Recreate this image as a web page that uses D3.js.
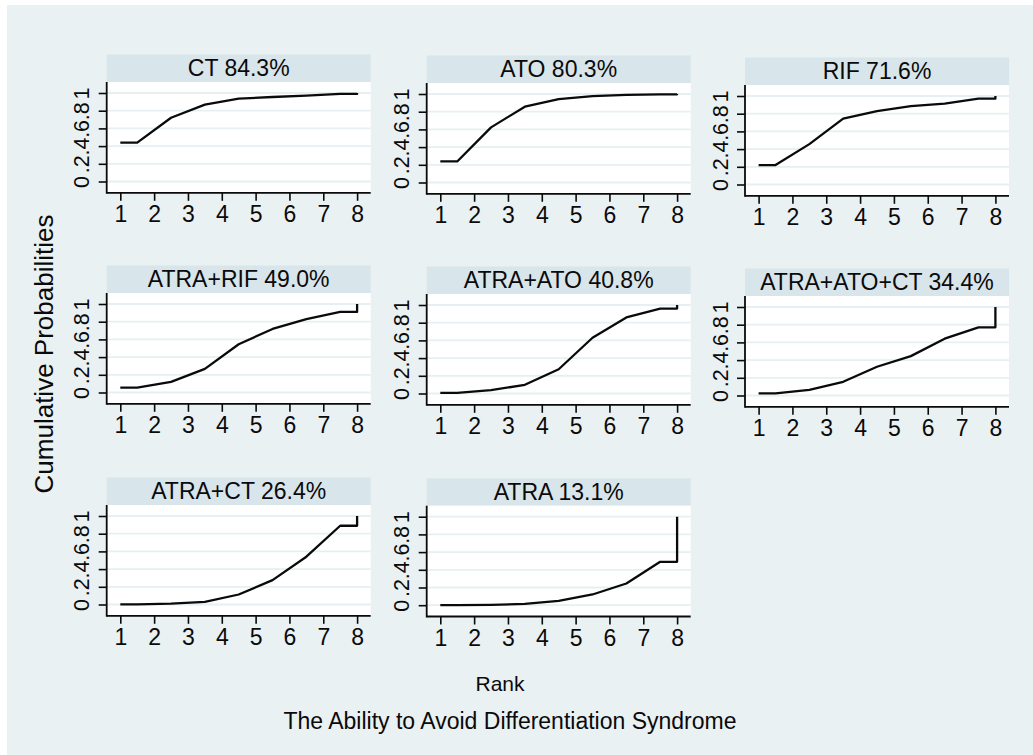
<!DOCTYPE html>
<html>
<head>
<meta charset="utf-8">
<script src="https://cdn.jsdelivr.net/npm/d3@7"></script>
<style>
  html, body { margin: 0; padding: 0; background: #ffffff; }
  svg { display: block; }
  text { font-family: "Liberation Sans", Arial, Helvetica, sans-serif; fill: #0a0a0a; }
</style>
</head>
<body>
<svg id="chart" width="1033" height="755"></svg>
<script>
// Treatments, their SUCRA values and cumulative rank probabilities (ranks 1..8)
const treatments = ["CT", "ATO", "RIF", "ATRA+RIF", "ATRA+ATO", "ATRA+ATO+CT", "ATRA+CT", "ATRA"];
const sucra = [84.3, 80.3, 71.6, 49.0, 40.8, 34.4, 26.4, 13.1];

const cumCT        = [0.44, 0.72, 0.868, 0.936, 0.955, 0.97, 0.99, 1];
const cumATO       = [0.238, 0.623, 0.857, 0.943, 0.977, 0.989, 0.996, 1];
const cumRIF       = [0.22, 0.456, 0.745, 0.83, 0.885, 0.915, 0.97, 1];
const cumATRA_RIF  = [0.056, 0.12, 0.267, 0.545, 0.718, 0.83, 0.91, 1];
const cumATRA_ATO  = [0.008, 0.038, 0.098, 0.274, 0.63, 0.86, 0.96, 1];
const cumATRA_ATO_CT = [0.023, 0.064, 0.155, 0.325, 0.445, 0.642, 0.77, 1];
const cumATRA_CT   = [0.002, 0.011, 0.03, 0.113, 0.275, 0.54, 0.89, 1];
const cumATRA      = [0.0, 0.004, 0.015, 0.049, 0.121, 0.245, 0.49, 1];

const cumulative = [cumCT, cumATO, cumRIF, cumATRA_RIF, cumATRA_ATO, cumATRA_ATO_CT, cumATRA_CT, cumATRA];

const xTicks = [1, 2, 3, 4, 5, 6, 7, 8];
const yTicks = [0, 0.2, 0.4, 0.6, 0.8, 1];
const yTickLabels = ["0", ".2", ".4", ".6", ".8", "1"];

const xTitle = "Rank";
const yTitle = "Cumulative Probabilities";
const caption = "The Ability to Avoid Differentiation Syndrome";

const svg = d3.select("#chart");

// page background
svg.append("rect").attr("x", 7).attr("y", 5).attr("width", 1026).attr("height", 750)
  .attr("fill", "#eaf1f3");

// panel geometry
const colLeft = [106.7, 426.7, 745];
const rowTop = [54.5, 265.5, 477.5];
const colShift = [0, 1, 3];
const plotW = 264, stripH = 27.5, plotH = 110.8;
const padTop = 11, padBottom = 11.3, padX = 13.6;
const ink = "#0a0a0a";

cumulative.forEach((cum, i) => {
  const col = i % 3, row = Math.floor(i / 3);
  const left = colLeft[col];
  const top = rowTop[row] + colShift[col] * (row === 2 ? 0.7 : 1);
  const plotTop = top + stripH;
  const plotBottom = plotTop + plotH;

  const x = d3.scaleLinear().domain([1, 8]).range([left + padX, left + plotW - padX]);
  const y = d3.scaleLinear().domain([0, 1]).range([plotBottom - padBottom, plotTop + padTop]);

  const g = svg.append("g");

  // strip header
  g.append("rect").attr("x", left).attr("y", top).attr("width", plotW).attr("height", stripH)
    .attr("fill", "#d8e5ea");
  g.append("text")
    .attr("x", left + plotW / 2).attr("y", top + stripH / 2 + 8.1)
    .attr("text-anchor", "middle").attr("font-size", 23)
    .text(`${treatments[i]} ${sucra[i].toFixed(1)}%`);

  // plot region
  g.append("rect").attr("x", left).attr("y", plotTop).attr("width", plotW).attr("height", plotH)
    .attr("fill", "#ffffff");

  // horizontal gridlines
  g.selectAll("line.grid").data(yTicks).enter().append("line")
    .attr("class", "grid")
    .attr("x1", left).attr("x2", left + plotW)
    .attr("y1", d => y(d)).attr("y2", d => y(d))
    .attr("stroke", "#e6eff2").attr("stroke-width", 1.8);

  // cumulative probability curve
  const pts = [[1, cum[0]]];
  for (let k = 1; k < 8; k++) pts.push([k + 0.5, cum[k - 1]]);
  pts.push([8, cum[6]]);
  pts.push([8, cum[7]]);
  g.append("path")
    .attr("d", d3.line().x(d => x(d[0])).y(d => y(d[1]))(pts))
    .attr("fill", "none").attr("stroke", ink).attr("stroke-width", 2.3)
    .attr("stroke-linejoin", "round");

  // x axis
  const xa = g.append("g").attr("transform", `translate(0,${plotBottom})`)
    .call(d3.axisBottom(x).tickValues(xTicks).tickSize(8).tickPadding(5).tickFormat(d3.format("d")));
  xa.select(".domain").remove();
  xa.selectAll("line").attr("stroke", ink).attr("stroke-width", 1.6);
  xa.selectAll("text").attr("font-size", 23).attr("fill", ink)
    .style("font-family", "'Liberation Sans', Arial, sans-serif");

  // y axis with rotated labels
  const ya = g.append("g").attr("transform", `translate(${left},0)`)
    .call(d3.axisLeft(y).tickValues(yTicks).tickSize(8).tickFormat((d, j) => yTickLabels[j]));
  ya.select(".domain").remove();
  ya.selectAll("line").attr("stroke", ink).attr("stroke-width", 1.6);
  ya.selectAll("text")
    .attr("x", 0).attr("dy", "0.36em")
    .attr("transform", "translate(-25,0) rotate(-90)")
    .attr("text-anchor", "middle")
    .attr("font-size", 21.5).attr("fill", ink)
    .style("font-family", "'Liberation Sans', Arial, sans-serif");

  // axis lines
  g.append("line").attr("x1", left).attr("x2", left).attr("y1", plotTop).attr("y2", plotBottom + 0.9)
    .attr("stroke", ink).attr("stroke-width", 1.8);
  g.append("line").attr("x1", left).attr("x2", left + plotW).attr("y1", plotBottom).attr("y2", plotBottom)
    .attr("stroke", ink).attr("stroke-width", 1.8);
});

// titles
svg.append("text").attr("x", 500).attr("y", 690.5).attr("text-anchor", "middle")
  .attr("font-size", 21).text(xTitle);
svg.append("text").attr("x", 510).attr("y", 729).attr("text-anchor", "middle")
  .attr("font-size", 23).text(caption);
svg.append("text").attr("transform", "translate(53,354) rotate(-90)").attr("text-anchor", "middle")
  .attr("font-size", 26).text(yTitle);
</script>
</body>
</html>
